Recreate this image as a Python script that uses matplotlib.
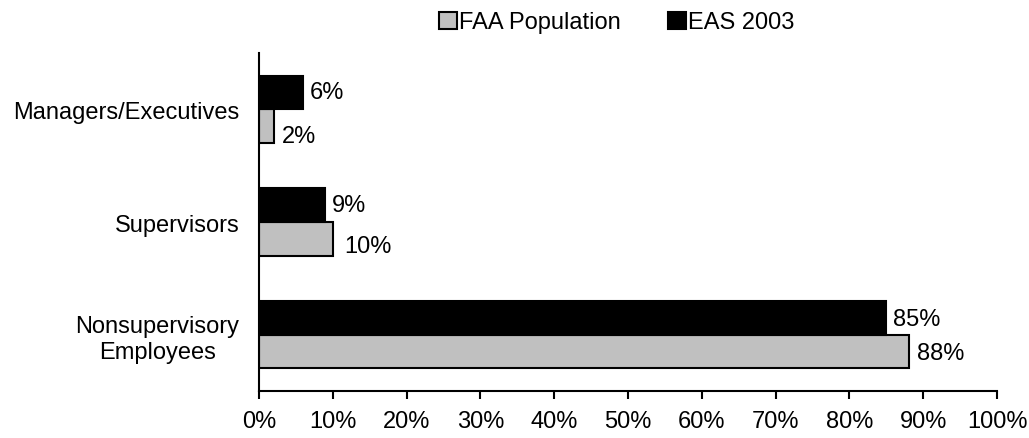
import numpy as np
import matplotlib.pyplot as plt

plt.rcParams['font.family'] = ['Liberation Sans', 'DejaVu Sans']

categories = ['Nonsupervisory\nEmployees', 'Supervisors', 'Managers/Executives']
faa_pop = [88, 10, 2]
eas_2003 = [85, 9, 6]

fs = 17

fig = plt.figure(figsize=(10.29, 4.39), dpi=100)
ax = fig.add_axes([0.2517, 0.107, 0.7173, 0.77])

y = np.arange(len(categories))
h = 0.3
b1 = ax.barh(y - h / 2, faa_pop, height=h, color='#c0c0c0', edgecolor='black',
             linewidth=1.5, label='FAA Population')
b2 = ax.barh(y + h / 2, eas_2003, height=h, color='black', edgecolor='black',
             linewidth=1.5, label='EAS 2003')

# label nudges (points), the small grey bars have their labels pushed down a bit
gray_off = [(6, -1), (8, -5), (6, -7)]
black_off = [(5, -1), (5, 0), (5, 0)]
for bars, vals, offs in [(b1, faa_pop, gray_off), (b2, eas_2003, black_off)]:
    for r, v, o in zip(bars, vals, offs):
        ax.annotate('%d%%' % v, (r.get_width(), r.get_y() + r.get_height() / 2),
                    xytext=o, textcoords='offset points',
                    va='center', ha='left', fontsize=fs)

ax.set_xlim(0, 100)
ax.set_ylim(-0.5, 2.5)
ax.set_xticks(np.arange(0, 101, 10))
ax.set_xticklabels(['%d%%' % t for t in range(0, 101, 10)])
ax.set_yticks(y)
ax.set_yticklabels(categories, ha='right', multialignment='center')
ax.tick_params(axis='y', length=0, pad=14, labelsize=fs)
ax.tick_params(axis='x', length=6, width=1.5, labelsize=fs, pad=8, direction='out')
for s in ['top', 'right']:
    ax.spines[s].set_visible(False)
ax.spines['left'].set_linewidth(1.5)
ax.spines['bottom'].set_linewidth(1.5)

ax.legend(loc='lower center', bbox_to_anchor=(0.485, 1.058), ncol=2, frameon=False,
          fontsize=fs, handlelength=0.75, handleheight=0.75, handletextpad=0.1,
          columnspacing=2.0, borderaxespad=0.0, borderpad=0.0)

fig.savefig('out.png', dpi=100)
